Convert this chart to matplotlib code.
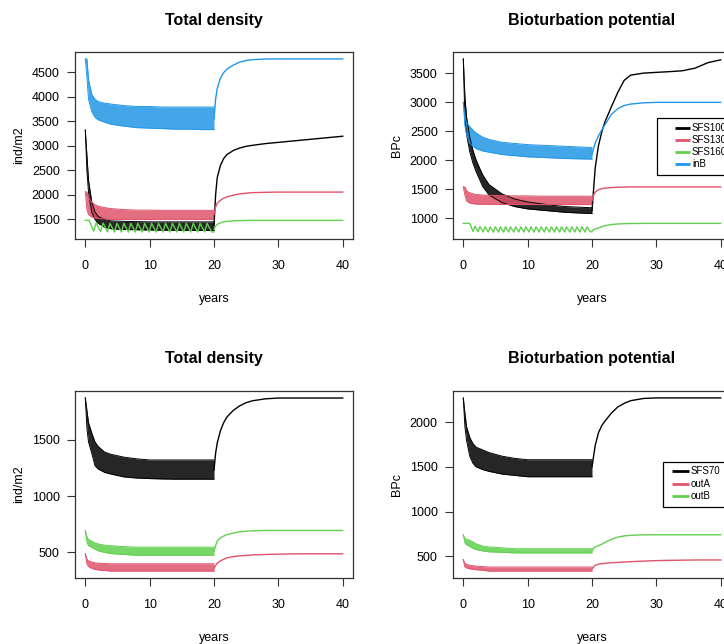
import matplotlib
matplotlib.use("Agg")
import matplotlib.pyplot as plt
from matplotlib.patches import Rectangle
from matplotlib.ticker import MultipleLocator
import numpy as np

plt.rcParams["font.family"] = ["Liberation Sans", "DejaVu Sans"]

BLACK, RED, GREEN, BLUE = "#000000", "#DF536B", "#61D04F", "#2297E6"

# time grids (years): fluctuating phase and recovery phase
t_osc = [0, 0.25, 0.5, 1, 1.5, 2, 3, 4, 6, 8, 10, 12, 14, 16, 18, 20]
t_rec = [20, 20.25, 20.5, 21, 21.5, 22, 23, 24, 25, 26, 28, 30, 32, 34, 36, 38, 40]

# --- Total density, upper panel (ind/m2): band hi / lo, then recovery
td1_black_hi = [3320, 2800, 2300, 1850, 1650, 1560, 1500, 1470, 1460, 1455, 1450, 1450, 1450, 1450, 1450, 1450]
td1_black_lo = [3320, 2500, 2050, 1650, 1500, 1420, 1340, 1310, 1295, 1290, 1285, 1280, 1280, 1278, 1276, 1275]
td1_black_rec = [1380, 2000, 2350, 2600, 2740, 2820, 2905, 2955, 2990, 3010, 3045, 3070, 3095, 3120, 3145, 3170, 3195]
td1_red_hi = [2060, 2060, 1950, 1850, 1800, 1770, 1740, 1720, 1700, 1690, 1690, 1685, 1685, 1685, 1685, 1685]
td1_red_lo = [2060, 1700, 1600, 1550, 1530, 1520, 1510, 1500, 1500, 1500, 1500, 1500, 1500, 1500, 1500, 1500]
td1_red_rec = [1600, 1750, 1830, 1890, 1930, 1960, 1995, 2020, 2035, 2045, 2053, 2057, 2057, 2057, 2057, 2057, 2057]
td1_blue_hi = [4770, 4770, 4350, 4050, 3950, 3900, 3870, 3850, 3820, 3800, 3800, 3790, 3790, 3790, 3790, 3790]
td1_blue_lo = [4770, 4400, 3950, 3700, 3580, 3530, 3480, 3440, 3400, 3370, 3360, 3350, 3340, 3340, 3330, 3330]
td1_blue_rec = [3550, 3950, 4170, 4380, 4490, 4560, 4645, 4705, 4740, 4755, 4768, 4770, 4770, 4770, 4770, 4770, 4770]
# green sawtooth: flat start, then teeth (tops / bottoms)
td1_green_flat = 1480
td1_green_tops = [1480, 1430, 1425, 1420, 1420, 1420, 1420, 1420, 1420, 1420, 1420, 1420, 1420, 1420, 1420, 1420, 1420, 1420]
td1_green_bots = [1260, 1250, 1245, 1242, 1242, 1242, 1242, 1242, 1242, 1242, 1242, 1242, 1242, 1242, 1242, 1242, 1242, 1245]
td1_green_rec = [1300, 1360, 1400, 1430, 1450, 1460, 1470, 1475, 1478, 1480, 1480, 1480, 1480, 1480, 1480, 1480, 1480]

# --- Bioturbation potential, upper panel (BPc)
bp1_black_hi = [3750, 3100, 2750, 2400, 2170, 2000, 1750, 1580, 1420, 1330, 1280, 1250, 1220, 1200, 1190, 1180]
bp1_black_lo = [3750, 2700, 2450, 2150, 1950, 1800, 1550, 1400, 1270, 1200, 1160, 1140, 1120, 1100, 1090, 1080]
bp1_black_rec = [1130, 1500, 1870, 2250, 2480, 2660, 2920, 3170, 3380, 3470, 3505, 3518, 3530, 3545, 3590, 3685, 3735]
bp1_red_hi = [1540, 1540, 1470, 1440, 1420, 1410, 1400, 1395, 1390, 1385, 1385, 1380, 1380, 1380, 1380, 1380]
bp1_red_lo = [1540, 1400, 1300, 1260, 1250, 1245, 1240, 1240, 1238, 1236, 1235, 1235, 1235, 1235, 1235, 1235]
bp1_red_rec = [1300, 1400, 1450, 1490, 1510, 1520, 1528, 1534, 1537, 1540, 1540, 1540, 1540, 1540, 1540, 1540, 1540]
bp1_blue_hi = [3000, 2750, 2650, 2580, 2520, 2470, 2400, 2360, 2310, 2290, 2270, 2260, 2250, 2240, 2230, 2220]
bp1_blue_lo = [3000, 2600, 2450, 2300, 2240, 2200, 2160, 2140, 2100, 2080, 2060, 2050, 2040, 2030, 2025, 2020]
bp1_blue_rec = [2100, 2200, 2300, 2420, 2520, 2610, 2790, 2890, 2945, 2970, 2992, 3000, 3000, 3000, 3000, 3000, 3000]
bp1_green_flat = 910
bp1_green_tops = [910, 860, 855, 852, 850, 850, 850, 850, 850, 850, 850, 850, 850, 850, 850, 850, 850, 850, 850, 850, 850, 850, 850, 850]
bp1_green_bots = [770, 765, 762, 760, 760, 760, 760, 760, 760, 760, 760, 760, 760, 760, 760, 760, 760, 760, 760, 760, 760, 760, 760, 765]
bp1_green_rec = [780, 800, 815, 830, 852, 870, 890, 900, 905, 908, 910, 910, 910, 910, 910, 910, 910]

# --- Total density, lower panel
td2_black_hi = [1870, 1760, 1650, 1560, 1480, 1440, 1390, 1370, 1345, 1330, 1320, 1320, 1320, 1320, 1320, 1320]
td2_black_lo = [1870, 1600, 1480, 1380, 1270, 1240, 1210, 1195, 1170, 1160, 1155, 1152, 1150, 1150, 1150, 1150]
td2_black_rec = [1230, 1380, 1470, 1580, 1650, 1700, 1760, 1800, 1828, 1845, 1862, 1869, 1869, 1869, 1869, 1869, 1869]
td2_red_hi = [488, 440, 425, 415, 408, 405, 402, 400, 400, 400, 400, 400, 400, 400, 400, 400]
td2_red_lo = [488, 400, 375, 360, 350, 345, 340, 335, 335, 335, 335, 335, 335, 335, 335, 335]
td2_red_rec = [360, 385, 405, 425, 440, 452, 463, 470, 474, 478, 482, 485, 487, 488, 488, 488, 488]
td2_green_hi = [695, 640, 615, 600, 585, 575, 565, 560, 552, 547, 547, 547, 547, 547, 547, 547]
td2_green_lo = [695, 590, 560, 545, 530, 515, 500, 490, 482, 475, 475, 475, 475, 475, 475, 475]
td2_green_rec = [510, 560, 600, 630, 645, 658, 672, 683, 688, 692, 695, 695, 695, 695, 695, 695, 695]

# --- Bioturbation potential, lower panel
bp2_black_hi = [2270, 2100, 1950, 1830, 1760, 1720, 1690, 1660, 1620, 1595, 1580, 1580, 1580, 1580, 1580, 1580]
bp2_black_lo = [2270, 1950, 1800, 1620, 1540, 1500, 1470, 1450, 1420, 1405, 1390, 1390, 1390, 1390, 1390, 1390]
bp2_black_rec = [1500, 1620, 1740, 1880, 1960, 2010, 2100, 2170, 2210, 2240, 2265, 2271, 2271, 2271, 2271, 2271, 2271]
bp2_red_hi = [463, 420, 410, 400, 395, 390, 385, 380, 380, 380, 380, 380, 380, 380, 380, 380]
bp2_red_lo = [463, 380, 370, 360, 355, 350, 345, 335, 335, 335, 335, 335, 335, 335, 335, 335]
bp2_red_rec = [360, 380, 400, 412, 418, 422, 428, 432, 436, 440, 446, 452, 455, 457, 459, 459, 459]
bp2_green_hi = [741, 700, 690, 680, 660, 640, 615, 605, 595, 585, 585, 585, 585, 585, 585, 585]
bp2_green_lo = [741, 650, 630, 610, 590, 575, 560, 550, 545, 538, 538, 538, 538, 538, 538, 538]
bp2_green_rec = [560, 590, 605, 620, 635, 655, 690, 715, 728, 735, 740, 741, 741, 741, 741, 741, 741]

legend1_labels = ["SFS100", "SFS130", "SFS160", "inB"]
legend2_labels = ["SFS70", "outA", "outB"]

FIG_W, FIG_H = 724, 644


def band(ax, hi, lo, rec, color):
    ax.fill_between(t_osc, lo, hi, color=color, lw=0, alpha=0.85)
    ax.plot(t_osc, hi, color=color, lw=0.7)
    ax.plot(t_osc, lo, color=color, lw=0.7)
    ax.plot(t_rec, rec, color=color, lw=1.0)


def sawtooth(ax, flat, tops, bots, rec, color, t_start=0.6):
    n = len(tops)
    step = (20 - t_start) / n
    xs, ys = [0, t_start], [flat, flat]
    for k in range(n):
        xs += [t_start + k * step, t_start + (k + 0.65) * step]
        ys += [tops[k], bots[k]]
    xs.append(20)
    ys.append(bots[-1])
    ax.plot(xs, ys, color=color, lw=1.0)
    ax.plot(t_rec, rec, color=color, lw=1.0)


def style(ax, title, ylabel):
    ax.margins(x=0.04, y=0.04)
    ax.xaxis.set_major_locator(MultipleLocator(10))
    ax.yaxis.set_major_locator(MultipleLocator(500))
    ax.tick_params(direction="out", length=6, width=0.8, labelsize=9, color="#333333")
    ax.tick_params(axis="x", pad=9)
    ax.tick_params(axis="y", pad=5)
    for s in ax.spines.values():
        s.set_color("#333333")
        s.set_linewidth(0.9)
    ax.text(0.5, 1 + 32 / 187, title, transform=ax.transAxes, ha="center", va="center",
            fontsize=11.5, fontweight="bold")
    ax.text(0.5, -60 / 187, "years", transform=ax.transAxes, ha="center", va="center", fontsize=9)
    ax.text(-56 / 278, 0.5, ylabel, transform=ax.transAxes, ha="center", va="center",
            rotation=90, fontsize=9)


def legend_box(ax, labels, colors, left, top, bottom, line_x0, line_x1, text_x, rows):
    # positions in pixels relative to the panel frame
    w, h = 278, 187
    ax.add_patch(Rectangle((left / w, bottom / h), 0.4, (top - bottom) / h, transform=ax.transAxes,
                           fill=True, facecolor="white", edgecolor="black", lw=0.9, clip_on=False,
                           zorder=5))
    for lab, col, r in zip(labels, colors, rows):
        ax.plot([line_x0 / w, line_x1 / w], [r / h, r / h], color=col, lw=2, transform=ax.transAxes,
                clip_on=False, zorder=6, solid_capstyle="butt")
        ax.text(text_x / w, r / h, lab, transform=ax.transAxes, ha="left", va="center",
                fontsize=7, zorder=7)


fig = plt.figure(figsize=(FIG_W / 100, FIG_H / 100), dpi=100)
left_l, left_r, width = 75 / FIG_W, 453 / FIG_W, 278 / FIG_W
bot_top, bot_bot, height = 1 - 239 / FIG_H, 1 - 578 / FIG_H, 187 / FIG_H

ax1 = fig.add_axes([left_l, bot_top, width, height])
band(ax1, td1_black_hi, td1_black_lo, td1_black_rec, BLACK)
band(ax1, td1_red_hi, td1_red_lo, td1_red_rec, RED)
sawtooth(ax1, td1_green_flat, td1_green_tops, td1_green_bots, td1_green_rec, GREEN)
band(ax1, td1_blue_hi, td1_blue_lo, td1_blue_rec, BLUE)
style(ax1, "Total density", "ind/m2")

ax2 = fig.add_axes([left_r, bot_top, width, height])
band(ax2, bp1_black_hi, bp1_black_lo, bp1_black_rec, BLACK)
band(ax2, bp1_red_hi, bp1_red_lo, bp1_red_rec, RED)
sawtooth(ax2, bp1_green_flat, bp1_green_tops, bp1_green_bots, bp1_green_rec, GREEN, t_start=1.0)
band(ax2, bp1_blue_hi, bp1_blue_lo, bp1_blue_rec, BLUE)
style(ax2, "Bioturbation potential", "BPc")
legend_box(ax2, legend1_labels, [BLACK, RED, GREEN, BLUE], 204, 239 - 118, 239 - 175,
           222, 237, 239, [239 - 128, 239 - 140, 239 - 152, 239 - 164])

ax3 = fig.add_axes([left_l, bot_bot, width, height])
band(ax3, td2_black_hi, td2_black_lo, td2_black_rec, BLACK)
band(ax3, td2_red_hi, td2_red_lo, td2_red_rec, RED)
band(ax3, td2_green_hi, td2_green_lo, td2_green_rec, GREEN)
style(ax3, "Total density", "ind/m2")

ax4 = fig.add_axes([left_r, bot_bot, width, height])
band(ax4, bp2_black_hi, bp2_black_lo, bp2_black_rec, BLACK)
band(ax4, bp2_red_hi, bp2_red_lo, bp2_red_rec, RED)
band(ax4, bp2_green_hi, bp2_green_lo, bp2_green_rec, GREEN)
style(ax4, "Bioturbation potential", "BPc")
legend_box(ax4, legend2_labels, [BLACK, RED, GREEN], 210, 578 - 462, 578 - 507,
           219, 236, 238, [578 - 471, 578 - 484, 578 - 496])

fig.savefig("out.png", dpi=100)
